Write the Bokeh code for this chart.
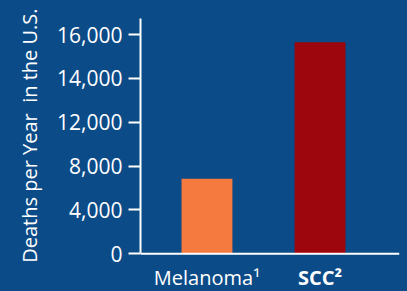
import numpy as np
from bokeh.plotting import figure
from bokeh.models import (ColumnDataSource, FixedTicker, Range1d, Span,
                          GlobalInlineStyleSheet)
from bokeh.core.properties import value
from bokeh.embed import file_html
from bokeh.resources import INLINE

# ---- data ----
categories = ["Melanoma", "SCC"]
cat_labels = ["Melanoma\u00b9", "SCC\u00b2"]
deaths = [6850, 15650]
tick_values = [0, 4000, 8000, 12000, 14000, 16000]   # evenly spaced on the axis (broken scale)

BG = "#0b4b87"
bar_colors = ["#f47a40", "#9c060c"]
label_styles = ["normal", "bold"]
FONT = "Open Sans"

tick_pos = list(range(len(tick_values)))
# the axis places its tick values at equal steps; map data onto those steps
pos = np.interp(deaths, tick_values, tick_pos)

src = ColumnDataSource(dict(
    x=list(range(len(categories))),
    cat=categories,
    top=pos,
    color=bar_colors,
    label=cat_labels,
    style=label_styles,
    ly=[-0.55] * len(categories),
))

p = figure(width=407, height=291,
           x_range=Range1d(-0.588, 1.703), y_range=Range1d(-0.86, 5.777),
           output_backend="svg", toolbar_location=None,
           min_border_left=140, min_border_right=8,
           min_border_top=0, min_border_bottom=0)
p.stylesheets = [GlobalInlineStyleSheet(css="body { background-color: %s; }" % BG)]

p.background_fill_color = BG
p.border_fill_color = BG
p.outline_line_color = None
p.grid.visible = False
p.xaxis.visible = False

p.vbar(x="x", top="top", width=0.45, bottom=0, color="color", line_color=None, source=src)

# baseline
p.add_layout(Span(location=0, dimension="width", line_color="white", line_width=2))

# y axis
ya = p.yaxis[0]
ya.bounds = (0, 5.366)
ya.ticker = FixedTicker(ticks=tick_pos)
ya.major_label_overrides = {i: f"{v:,}" for i, v in enumerate(tick_values)}
ya.major_label_text_font = FONT
ya.major_label_text_font_size = "21px"
ya.major_label_text_color = "white"
ya.major_label_standoff = 6
ya.major_tick_out = 12
ya.major_tick_in = 0
ya.major_tick_line_color = "white"
ya.major_tick_line_width = 2
ya.minor_tick_line_color = None
ya.axis_line_color = "white"
ya.axis_line_width = 2
ya.axis_label = "\u00a0\u00a0\u00a0\u00a0Deaths per Year\u00a0 in the U.S."
ya.axis_label_text_font = FONT
ya.axis_label_text_font_size = "20px"
ya.axis_label_text_font_style = "normal"
ya.axis_label_text_color = "white"
ya.axis_label_standoff = 11

# category labels
p.text(x="x", y="ly", text="label", source=src,
       text_font=value(FONT), text_font_size="20px",
       text_font_style="style", text_color="white",
       text_align="center", text_baseline="middle")

open("out.html", "w").write(file_html(p, INLINE))
